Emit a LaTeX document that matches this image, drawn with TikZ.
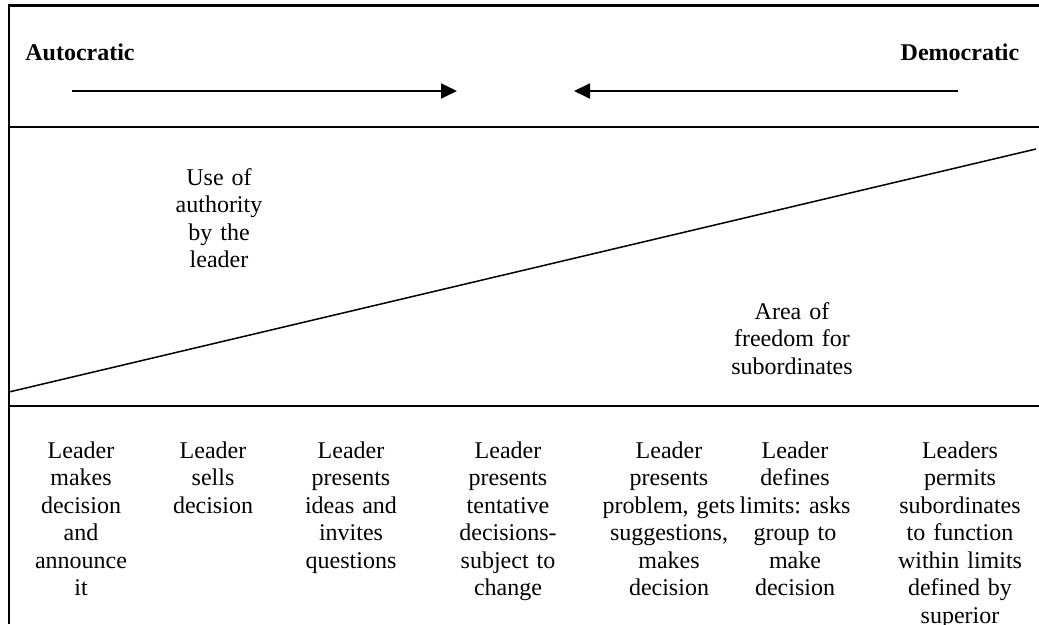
\documentclass[tikz,border=0pt]{standalone}
\usepackage{fontspec}
\setmainfont{Liberation Serif}
\usetikzlibrary{arrows.meta}
\frenchspacing
\begin{document}
\begin{tikzpicture}[x=1pt,y=-1pt,
  frame/.style={line width=2.8pt},
  arr/.style={line width=1.8pt,-{Triangle[length=16pt,width=15pt]}},
  txt/.style={inner sep=0pt,text width=180pt,align=center,anchor=base,
    font=\fontsize{24}{27.5}\selectfont\frenchspacing},
  head/.style={inner sep=0pt,anchor=base,font=\fontsize{24}{27.5}\selectfont\bfseries}]
\useasboundingbox (0,0) rectangle (1039,624);
% frame lines
\coordinate (tl) at (9,5.5);
\coordinate (tr) at (1039,5.5);
\coordinate (bl) at (9,624);
\coordinate (ml) at (9,127);
\coordinate (mr) at (1039,127);
\coordinate (ll) at (9,406);
\coordinate (lr) at (1039,406);
\draw[frame] (tr) -- (tl);
\draw[line width=2.4pt] (9,4.1) -- (bl);
\draw[frame] (ml) -- (mr);
\draw[frame] (ll) -- (lr);
% diagonal
\coordinate (d1) at (9,392);
\coordinate (d2) at (1036,149);
\draw[line width=1.5pt] (d1) -- (d2);
% arrows
\coordinate (a1s) at (72,91);
\coordinate (a1e) at (457,91);
\coordinate (a2s) at (958,91);
\coordinate (a2e) at (574,91);
\draw[arr] (a1s) -- (a1e);
\draw[arr] (a2s) -- (a2e);
% headings
\node[head] (auto) at (80,60) {Autocratic};
\node[head] (demo) at (960,60) {Democratic};
% middle texts
\node[txt] (use) at (219,185) {Use of\\authority\\by the\\leader};
\node[txt] (area) at (792,319) {Area of\\freedom for\\subordinates};
% bottom columns
\node[txt] (c1) at (81,458) {Leader\\makes\\decision\\and\\announce\\it};
\node[txt] (c2) at (213,458) {Leader\\sells\\decision};
\node[txt] (c3) at (351,458) {Leader\\presents\\ideas and\\invites\\questions};
\node[txt] (c4) at (508,458) {Leader\\presents\\tentative\\decisions-\\subject to\\change};
\node[txt] (c5) at (669,458) {Leader\\presents\\problem, gets\\suggestions,\\makes\\decision};
\node[txt] (c6) at (795,458) {Leader\\defines\\limits: asks\\group to\\make\\decision};
\node[txt] (c7) at (960,458) {Leaders\\permits\\subordinates\\to function\\within limits\\defined by\\superior};
\end{tikzpicture}
\end{document}
